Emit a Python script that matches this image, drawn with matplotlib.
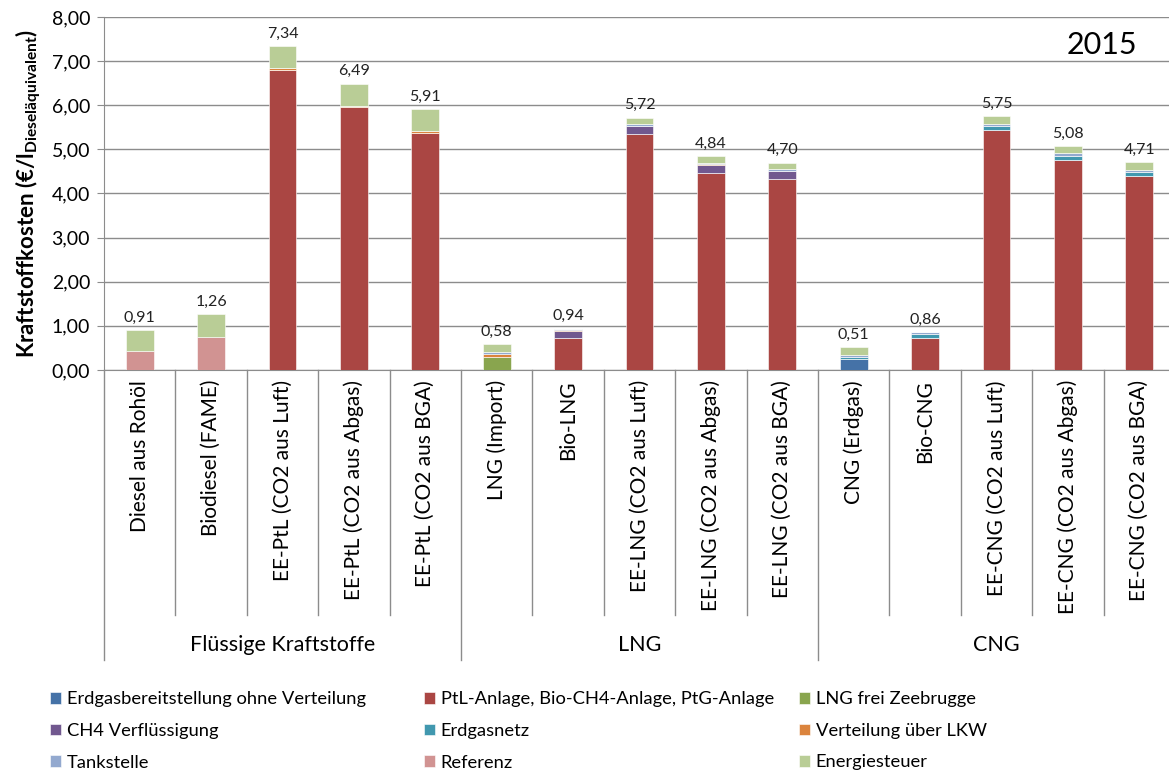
import matplotlib
matplotlib.use('Agg')
import matplotlib.pyplot as plt
import numpy as np

plt.rcParams['font.family'] = ['Lato', 'DejaVu Sans']
plt.rcParams['mathtext.fontset'] = 'custom'
plt.rcParams['mathtext.bf'] = 'Lato:bold'
plt.rcParams['mathtext.rm'] = 'Lato'

kategorien = ['Diesel aus Rohöl', 'Biodiesel (FAME)', 'EE-PtL (CO2 aus Luft)',
              'EE-PtL (CO2 aus Abgas)', 'EE-PtL (CO2 aus BGA)', 'LNG (Import)',
              'Bio-LNG', 'EE-LNG (CO2 aus Luft)', 'EE-LNG (CO2 aus Abgas)',
              'EE-LNG (CO2 aus BGA)', 'CNG (Erdgas)', 'Bio-CNG',
              'EE-CNG (CO2 aus Luft)', 'EE-CNG (CO2 aus Abgas)', 'EE-CNG (CO2 aus BGA)']
gruppen = ['Flüssige Kraftstoffe', 'LNG', 'CNG']
summen = [0.91, 1.26, 7.34, 6.49, 5.91, 0.58, 0.94, 5.72, 4.84, 4.70,
          0.51, 0.86, 5.75, 5.08, 4.71]

erdgasbereitstellung = [0, 0, 0, 0, 0, 0, 0, 0, 0, 0, 0.26, 0, 0, 0, 0]
ptl_anlage = [0, 0, 6.80, 5.95, 5.37, 0, 0.72, 5.35, 4.47, 4.33, 0, 0.72, 5.44, 4.77, 4.40]
lng_zeebrugge = [0, 0, 0, 0, 0, 0.29, 0, 0, 0, 0, 0, 0, 0, 0, 0]
ch4_verfluessigung = [0, 0, 0, 0, 0, 0, 0.17, 0.17, 0.17, 0.17, 0, 0, 0, 0, 0]
erdgasnetz = [0, 0, 0, 0, 0, 0, 0, 0, 0, 0, 0.03, 0.09, 0.09, 0.09, 0.09]
verteilung_lkw = [0, 0, 0.04, 0.04, 0.04, 0.08, 0.02, 0.02, 0.02, 0.02, 0, 0, 0, 0, 0]
tankstelle = [0, 0, 0, 0, 0, 0.03, 0.03, 0.03, 0.03, 0.03, 0.05, 0.05, 0.05, 0.05, 0.05]
referenz = [0.43, 0.75, 0, 0, 0, 0, 0, 0, 0, 0, 0, 0, 0, 0, 0]
energiesteuer = [0.48, 0.51, 0.50, 0.50, 0.50, 0.18, 0, 0.15, 0.15, 0.15, 0.17, 0, 0.17, 0.17, 0.17]

serien = [
    ('Erdgasbereitstellung ohne Verteilung', erdgasbereitstellung, '#4572A7'),
    ('PtL-Anlage, Bio-CH4-Anlage, PtG-Anlage', ptl_anlage, '#AA4643'),
    ('LNG frei Zeebrugge', lng_zeebrugge, '#89A54E'),
    ('CH4 Verflüssigung', ch4_verfluessigung, '#71588F'),
    ('Erdgasnetz', erdgasnetz, '#4198AF'),
    ('Verteilung über LKW', verteilung_lkw, '#DB843D'),
    ('Tankstelle', tankstelle, '#93A9CF'),
    ('Referenz', referenz, '#D19392'),
    ('Energiesteuer', energiesteuer, '#B9CD96'),
]

W, H = 1169, 772
fig = plt.figure(figsize=(W / 100, H / 100), dpi=100)
ax_left, ax_right, ax_top, ax_bot = 104, 1175, 17, 370
ax = fig.add_axes([ax_left / W, 1 - ax_bot / H, (ax_right - ax_left) / W, (ax_bot - ax_top) / H])

x = np.arange(len(kategorien))
unten = np.zeros(len(kategorien))
handles = []
for name, werte, farbe in serien:
    werte = np.array(werte)
    b = ax.bar(x, werte, 0.39, bottom=unten, color=farbe, edgecolor='white',
               linewidth=0.4, label=name, zorder=3)
    handles.append(b)
    unten += werte

for xi, s in zip(x, summen):
    ax.text(xi, s + 0.12, f'{s:.2f}'.replace('.', ','), ha='center', va='bottom',
            fontsize=11.5, color='#222222')

ax.set_xlim(-0.5, len(kategorien) - 0.5)
ax.set_ylim(0, 8)
ax.set_yticks(np.arange(0, 8.01, 1))
ax.set_yticklabels([f'{v:.2f}'.replace('.', ',') for v in np.arange(0, 8.01, 1)], fontsize=14)
ax.yaxis.grid(True, color='#8c8c8c', linewidth=1, zorder=0)
ax.set_xticks([])
ax.tick_params(axis='y', length=5, color='#8c8c8c', pad=5)
for s in ['top', 'right']:
    ax.spines[s].set_visible(False)
for s in ['left', 'bottom']:
    ax.spines[s].set_color('#8c8c8c')
ax.set_ylabel(r'Kraftstoffkosten (€/l$_{\mathbf{Dieseläquivalent}}$)',
              fontsize=16, fontweight='bold', labelpad=6)

# Kategorien und Gruppen unter der Achse
trans = ax.get_xaxis_transform()
px = 1 / (ax_bot - ax_top)
for xi, k in zip(x, kategorien):
    ax.text(xi, -10 * px, k, rotation=90, ha='center', va='top', fontsize=15,
            transform=trans, clip_on=False)
for i in range(len(kategorien) + 1):
    tief = 290 if i % 5 == 0 else 245
    ax.plot([i - 0.5, i - 0.5], [0, -tief * px], color='#8c8c8c', lw=1,
            transform=trans, clip_on=False)
for j, g in enumerate(gruppen):
    ax.text(5 * j + 2, -275 * px, g, ha='center', va='center', fontsize=15.5,
            transform=trans, clip_on=False)

ax.text(13.97, 7.37, '2015', ha='right', va='center', fontsize=22)

# Legende in drei Spalten
spalten_x = [43, 417, 792]
for c in range(3):
    hs = [handles[c + 3 * r] for r in range(3)]
    fig.legend(hs, [h.get_label() for h in hs], loc='upper left',
               bbox_to_anchor=(spalten_x[c] / W, 1 - 684 / H), frameon=False,
               fontsize=13.2, handlelength=0.6, handleheight=0.6, handletextpad=0.3,
               labelspacing=0.85, borderaxespad=0)

fig.savefig('out.png', dpi=100)
